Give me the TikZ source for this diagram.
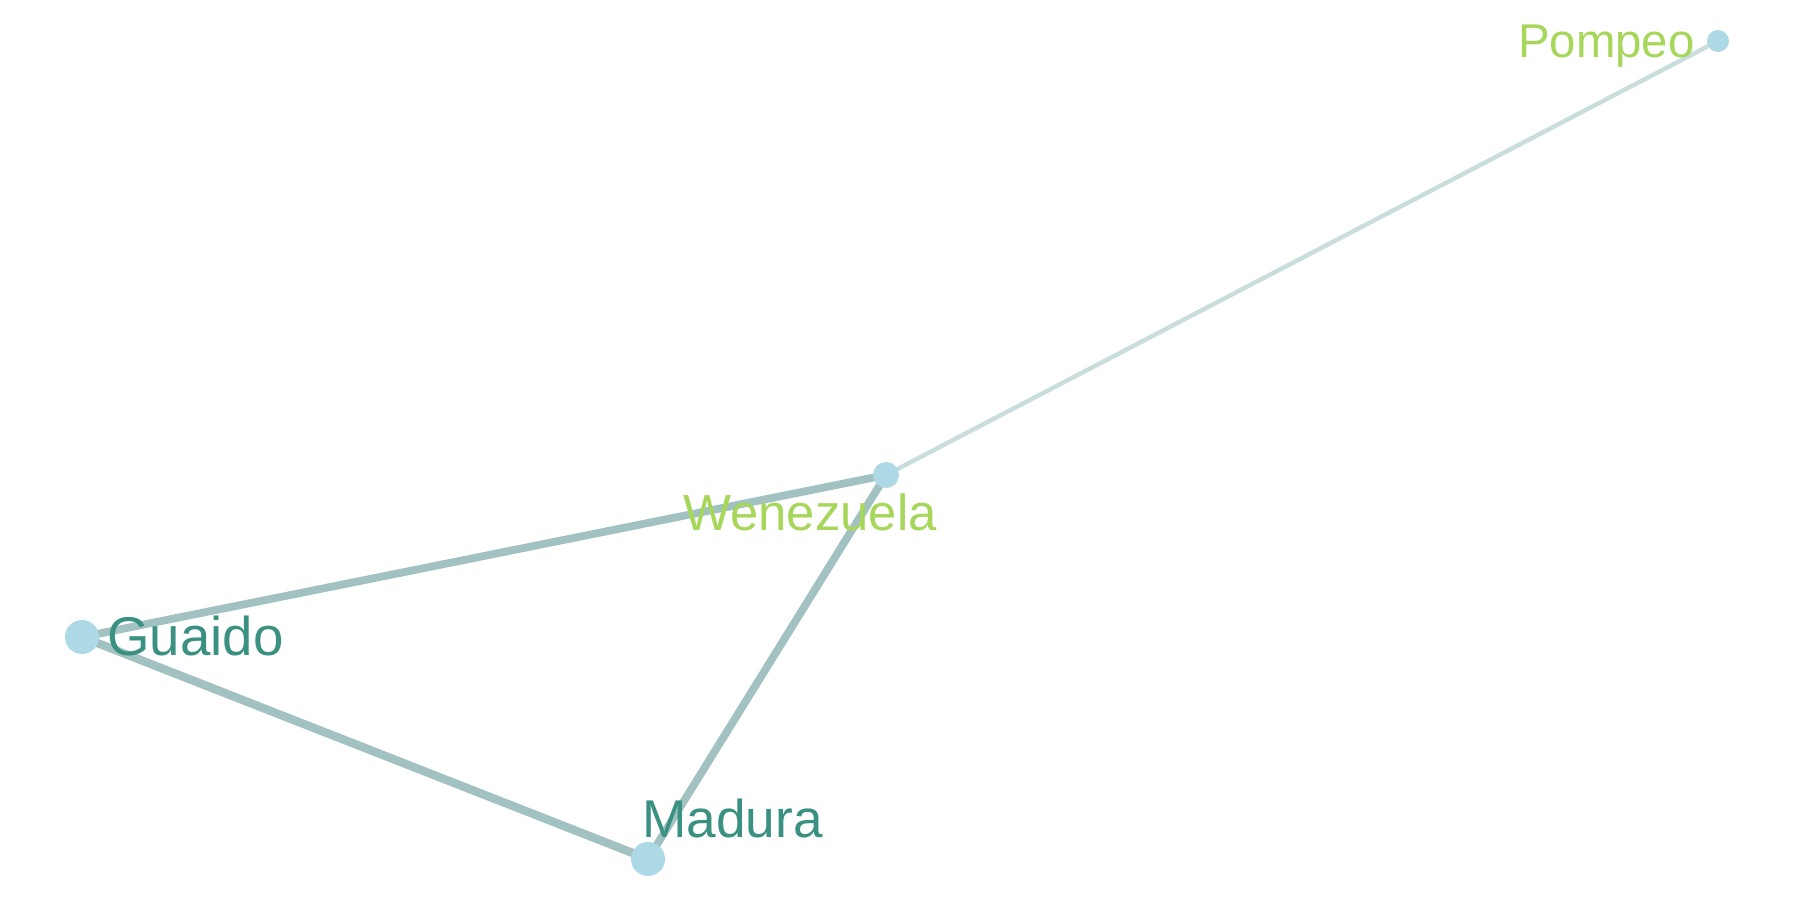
\documentclass[tikz,border=0pt]{standalone}
\usepackage{fontspec}
\setmainfont{Liberation Sans}
\definecolor{nodefill}{HTML}{ADD8E6}
\definecolor{edgedark}{HTML}{A2C1C1}
\definecolor{edgelight}{HTML}{C9DDDD}
\definecolor{lblgreen}{HTML}{A6D65A}
\definecolor{lblteal}{HTML}{3A9182}
\begin{document}
\begin{tikzpicture}[x=0.5pt,y=-0.5pt,
  vtx/.style={circle,fill=nodefill,inner sep=0pt,minimum size=#1},
  heavy/.style={draw=edgedark,line width=#1},
  light/.style={draw=edgelight,line width=2.2pt},
  lbl/.style={inner sep=0pt,font=\fontsize{#1}{#1}\selectfont}]
\useasboundingbox (0,0) rectangle (1800,900);
\coordinate (pompeo) at (1718,41);
\coordinate (wen) at (886,475);
\coordinate (guaido) at (82,637);
\coordinate (madura) at (648,859);
\draw[light] (wen) -- (pompeo);
\draw[heavy=3.9pt] (guaido) -- (wen);
\draw[heavy=3.9pt] (wen) -- (madura);
\draw[heavy=4.2pt] (guaido) -- (madura);
\node[vtx=11pt] (npompeo) at (pompeo) {};
\node[vtx=13pt] (nwen) at (wen) {};
\node[vtx=17pt] (nguaido) at (guaido) {};
\node[vtx=17pt] (nmadura) at (madura) {};
\node[lbl=23.7pt,text=lblgreen,anchor=base east] (lpompeo) at (1695,57) {Pompeo};
\node[lbl=25.4pt,text=lblgreen,anchor=base west] (lwen) at (683,530) {Wenezuela};
\node[lbl=27.3pt,text=lblteal,anchor=base west] (lguaido) at (107,655) {Guaido};
\node[lbl=26.6pt,text=lblteal,anchor=base west] (lmadura) at (642,837) {Madura};
\end{tikzpicture}
\end{document}
